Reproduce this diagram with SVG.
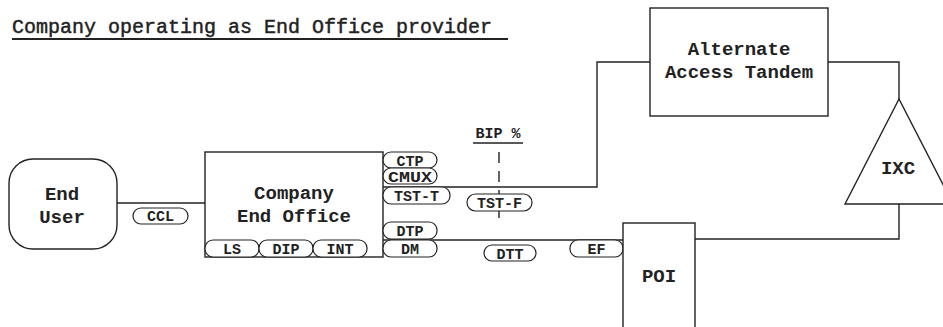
<svg xmlns="http://www.w3.org/2000/svg" width="943" height="327" viewBox="0 0 943 327">
<style>
.box{fill:#fff;stroke:#222;stroke-width:1.4}
.pill{fill:#fff;stroke:#222;stroke-width:1.2}
.ln{fill:none;stroke:#222;stroke-width:1.4}
.dash{fill:none;stroke:#222;stroke-width:1.4;stroke-dasharray:11 8}
text{font-family:"Liberation Mono","Courier New",monospace;fill:#222}
.lbl{font-size:19px;text-anchor:middle;font-weight:bold}
.pt{font-size:15px;text-anchor:middle;font-weight:bold}
.title{font-size:20px;stroke:#222;stroke-width:0.45}
</style>
<rect width="943" height="327" fill="#fff"/>
<g id="title">
<text class="title" x="12" y="33">Company operating as End Office provider</text>
<line x1="12" y1="39" x2="508" y2="39" stroke="#222" stroke-width="1.8"/>
</g>
<g id="connectors">
<line class="ln" x1="117" y1="203" x2="205" y2="203"/>
<polyline class="ln" points="383,187 597,187 597,62 650,62"/>
<polyline class="ln" points="828,62 899,62 899,99"/>
<polyline class="ln" points="899,204 899,239 695,239"/>
<line class="ln" x1="383" y1="240" x2="623" y2="240"/>
<line class="dash" x1="499" y1="152" x2="499" y2="218"/>
</g>
<g id="end-user">
<rect class="box" x="9" y="159" width="108" height="90" rx="24"/>
<text class="lbl" x="62" y="200">End</text>
<text class="lbl" x="62" y="223">User</text>
</g>
<g id="ccl">
<rect class="pill" x="133" y="208" width="55" height="16" rx="8"/>
<text class="pt" x="160.5" y="221">CCL</text>
</g>
<g id="company-end-office">
<rect class="box" x="205" y="152" width="178" height="105"/>
<text class="lbl" x="294" y="199">Company</text>
<text class="lbl" x="294" y="222">End Office</text>
<rect class="pill" x="205" y="240" width="54" height="17" rx="8"/>
<text class="pt" x="232" y="254">LS</text>
<rect class="pill" x="259" y="240" width="54" height="17" rx="8"/>
<text class="pt" x="286" y="254">DIP</text>
<rect class="pill" x="313" y="240" width="54" height="17" rx="8"/>
<text class="pt" x="340" y="254">INT</text>
</g>
<g id="office-ports">
<rect class="pill" x="383" y="152" width="54" height="16" rx="8"/>
<text class="pt" x="410" y="165.5">CTP</text>
<rect class="pill" x="383" y="168" width="54" height="16" rx="8"/>
<text class="pt" x="410" y="181.5" textLength="44" lengthAdjust="spacingAndGlyphs">CMUX</text>
<rect class="pill" x="383" y="187" width="67" height="17" rx="8"/>
<text class="pt" x="416.5" y="201">TST-T</text>
<rect class="pill" x="383" y="222" width="54" height="17" rx="8"/>
<text class="pt" x="410" y="236">DTP</text>
<rect class="pill" x="383" y="240" width="54" height="17" rx="8"/>
<text class="pt" x="410" y="254">DM</text>
</g>
<g id="bip">
<text class="pt" x="498" y="138">BIP %</text>
<line x1="473" y1="143" x2="523" y2="143" stroke="#222" stroke-width="1.4"/>
</g>
<g id="tst-f">
<rect class="pill" x="467" y="194" width="65" height="17" rx="8.5"/>
<text class="pt" x="499.5" y="208">TST-F</text>
</g>
<g id="dtt">
<rect class="pill" x="484" y="245" width="52" height="16" rx="8"/>
<text class="pt" x="510" y="258.5">DTT</text>
</g>
<g id="ef">
<rect class="pill" x="570" y="240" width="53" height="17" rx="8"/>
<text class="pt" x="596.5" y="254">EF</text>
</g>
<g id="alternate-access-tandem">
<rect class="box" x="650" y="8" width="178" height="108"/>
<text class="lbl" x="739" y="55">Alternate</text>
<text class="lbl" x="739" y="78">Access Tandem</text>
</g>
<g id="ixc">
<polygon class="box" points="899,99 845,204 953,204"/>
<text class="lbl" x="898" y="174">IXC</text>
</g>
<g id="poi">
<rect class="box" x="623" y="223" width="72" height="120"/>
<text class="lbl" x="659" y="282">POI</text>
</g>
</svg>
